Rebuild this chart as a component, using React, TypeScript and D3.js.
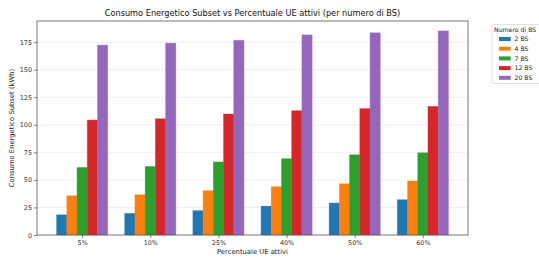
import { useEffect, useRef } from 'react';
import * as d3 from 'd3';

// categorie sull'asse x
const percentuali = ['5%', '10%', '25%', '40%', '50%', '60%'];
const serieBS = ['2 BS', '4 BS', '7 BS', '12 BS', '20 BS'];
const colori = ['#1f77b4', '#ff7f0e', '#2ca02c', '#d62728', '#9467bd'];

// consumo per numero di BS (kWh)
const bs2 = [18.3, 19.6, 22.1, 26.2, 29.0, 32.0];
const bs4 = [35.6, 36.5, 40.2, 43.8, 46.5, 49.0];
const bs7 = [61.3, 62.2, 66.3, 69.2, 72.8, 74.6];
const bs12 = [104.3, 105.5, 109.8, 112.8, 114.7, 116.7];
const bs20 = [172.3, 174.1, 176.7, 181.6, 183.5, 185.2];
const valori = [bs2, bs4, bs7, bs12, bs20];

const yTicks = [0, 25, 50, 75, 100, 125, 150, 175];

const App = () => {
  const svgRef = useRef<SVGSVGElement | null>(null);

  useEffect(() => {
    document.body.style.margin = '0';
    document.body.style.overflow = 'hidden';

    const W = 539;
    const H = 262;
    const margin = { top: 21, right: 71, bottom: 27, left: 37 };
    const width = W - margin.left - margin.right;
    const height = H - margin.top - margin.bottom;
    const font = 'DejaVu Sans, sans-serif';
    const barW = 0.15;

    const root = d3.select(svgRef.current);
    root.selectAll('*').remove();
    root.attr('width', W).attr('height', H);

    const svg = root.append('g').attr('transform', `translate(${margin.left},${margin.top})`);

    // scala x come matplotlib: centri 0..5, margini del 5%
    const lo = -2 * barW - barW / 2;
    const hi = percentuali.length - 1 + 2 * barW + barW / 2;
    const pad = (hi - lo) * 0.05;
    const x = d3.scaleLinear().domain([lo - pad, hi + pad]).range([0, width]);
    const y = d3.scaleLinear().domain([0, 194.2]).range([height, 0]);

    // griglia tratteggiata
    svg
      .append('g')
      .selectAll('line')
      .data(yTicks.slice(1))
      .join('line')
      .attr('x1', 0)
      .attr('x2', width)
      .attr('y1', (d) => y(d))
      .attr('y2', (d) => y(d))
      .attr('stroke', '#d9d9d9')
      .attr('stroke-width', 0.6)
      .attr('stroke-dasharray', '2.5,1.5');

    // barre
    valori.forEach((serie, si) => {
      const off = (si - 2) * barW;
      svg
        .append('g')
        .selectAll('rect')
        .data(serie)
        .join('rect')
        .attr('x', (d, i) => x(i + off - barW / 2))
        .attr('y', (d) => y(d))
        .attr('width', x(barW) - x(0))
        .attr('height', (d) => y(0) - y(d))
        .attr('fill', colori[si])
        .attr('stroke', colori[si])
        .attr('stroke-opacity', 0.45)
        .attr('stroke-width', 0.8);
    });

    // assi
    const yAxis = svg
      .append('g')
      .call(d3.axisLeft(y).tickValues(yTicks).tickSize(3).tickPadding(2));
    const xAxis = svg
      .append('g')
      .attr('transform', `translate(0,${height})`)
      .call(
        d3
          .axisBottom(x)
          .tickValues(d3.range(percentuali.length))
          .tickFormat((d) => percentuali[d as number])
          .tickSize(3)
          .tickPadding(2)
      );
    [yAxis, xAxis].forEach((ax) => {
      ax.select('.domain').remove();
      ax.selectAll('line').attr('stroke', '#333').attr('stroke-width', 0.6);
      ax.selectAll('text').attr('fill', '#333').style('font-family', font).style('font-size', '6.4px');
    });

    // cornice
    svg
      .append('rect')
      .attr('width', width)
      .attr('height', height)
      .attr('fill', 'none')
      .attr('stroke', '#555')
      .attr('stroke-width', 0.8);

    // titolo ed etichette
    svg
      .append('text')
      .attr('x', width / 2)
      .attr('y', -5)
      .attr('text-anchor', 'middle')
      .attr('fill', '#111')
      .style('font-family', font)
      .style('font-size', '8.2px')
      .text('Consumo Energetico Subset vs Percentuale UE attivi (per numero di BS)');

    svg
      .append('text')
      .attr('x', width / 2)
      .attr('y', height + 19)
      .attr('text-anchor', 'middle')
      .attr('fill', '#222')
      .style('font-family', font)
      .style('font-size', '6.8px')
      .text('Percentuale UE attivi');

    svg
      .append('text')
      .attr('transform', `translate(${-23},${height / 2}) rotate(-90)`)
      .attr('text-anchor', 'middle')
      .attr('fill', '#222')
      .style('font-family', font)
      .style('font-size', '6.8px')
      .text('Consumo Energetico Subset (kWh)');

    // legenda
    const leg = root.append('g').attr('transform', 'translate(492,24.5)');
    leg
      .append('rect')
      .attr('width', 50)
      .attr('height', 59)
      .attr('rx', 2)
      .attr('fill', 'white')
      .attr('stroke', '#ccc')
      .attr('stroke-width', 0.6);
    leg
      .append('text')
      .attr('x', 2)
      .attr('y', 7.5)
      .attr('fill', '#222')
      .style('font-family', font)
      .style('font-size', '6.2px')
      .text('Numero di BS');
    const items = leg
      .selectAll('g.item')
      .data(serieBS)
      .join('g')
      .attr('class', 'item')
      .attr('transform', (d, i) => `translate(0,${14.5 + i * 9.7})`);
    items
      .append('rect')
      .attr('x', 7)
      .attr('y', -2)
      .attr('width', 11.7)
      .attr('height', 4)
      .attr('fill', (d, i) => colori[i]);
    items
      .append('text')
      .attr('x', 22.5)
      .attr('y', 2.2)
      .attr('fill', '#222')
      .style('font-family', font)
      .style('font-size', '6.2px')
      .text((d) => d);
  }, []);

  return (
    <div style={{ position: 'absolute', left: 0, top: 0 }}>
      <svg ref={svgRef} style={{ display: 'block' }}></svg>
    </div>
  );
};

export default App;
